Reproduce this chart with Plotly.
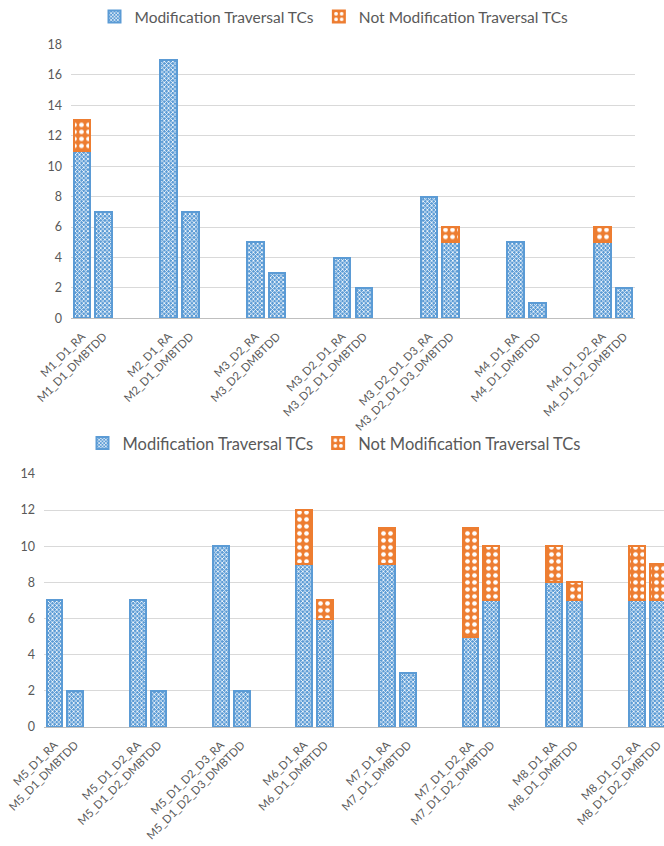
import plotly.graph_objects as go

# ---------------- data ----------------
top_labels = ["M1_D1_RA", "M1_D1_DMBTDD", "M2_D1_RA", "M2_D1_DMBTDD",
              "M3_D2_RA", "M3_D2_DMBTDD", "M3_D2_D1_RA", "M3_D2_D1_DMBTDD",
              "M3_D2_D1_D3_RA", "M3_D2_D1_D3_DMBTDD", "M4_D1_RA", "M4_D1_DMBTDD",
              "M4_D1_D2_RA", "M4_D1_D2_DMBTDD"]
top_mod = [11, 7, 17, 7, 5, 3, 4, 2, 8, 5, 5, 1, 5, 2]
top_not = [2, 0, 0, 0, 0, 0, 0, 0, 0, 1, 0, 0, 1, 0]

bot_labels = ["M5_D1_RA", "M5_D1_DMBTDD", "M5_D1_D2_RA", "M5_D1_D2_DMBTDD",
              "M5_D1_D2_D3_RA", "M5_D1_D2_D3_DMBTDD", "M6_D1_RA", "M6_D1_DMBTDD",
              "M7_D1_RA", "M7_D1_DMBTDD", "M7_D1_D2_RA", "M7_D1_D2_DMBTDD",
              "M8_D1_RA", "M8_D1_DMBTDD", "M8_D1_D2_RA", "M8_D1_D2_DMBTDD"]
bot_mod = [7, 2, 7, 2, 10, 2, 9, 6, 9, 3, 5, 7, 8, 7, 7, 7]
bot_not = [0, 0, 0, 0, 0, 0, 3, 1, 2, 0, 6, 3, 2, 1, 3, 2]

series_names = ["Modification Traversal TCs", "Not Modification Traversal TCs"]

# ---------------- styling ----------------
W, H = 664, 846
BLUE = "#5B9BD5"
ORANGE = "#ED7D31"
GRID = "#D9D9D9"
TXT = "#595959"
FONT = "Lato, 'Open Sans', sans-serif"


def positions(n):
    # two bars per group, groups separated by two empty slots
    return [4 * (i // 2) + (i % 2) for i in range(n)]


def nz(vals):
    return [v if v else None for v in vals]


blue_marker = dict(color=BLUE, line=dict(color=BLUE, width=2),
                   pattern=dict(shape="x", fgcolor="white", bgcolor=BLUE,
                                size=3, solidity=0.45, fillmode="replace"))
orange_marker = dict(color=ORANGE, line=dict(color=ORANGE, width=2),
                     pattern=dict(shape=".", fgcolor="white", bgcolor=ORANGE,
                                  size=7, solidity=0.35, fillmode="replace"))

fig = go.Figure()

xt = positions(len(top_labels))
xb = positions(len(bot_labels))

fig.add_trace(go.Bar(x=xt, y=top_mod, name=series_names[0], marker=blue_marker,
                     width=0.76, xaxis="x", yaxis="y", legend="legend"))
fig.add_trace(go.Bar(x=xt, y=nz(top_not), name=series_names[1], marker=orange_marker,
                     width=0.76, xaxis="x", yaxis="y", legend="legend"))
fig.add_trace(go.Bar(x=xb, y=bot_mod, name=series_names[0], marker=blue_marker,
                     width=0.76, xaxis="x2", yaxis="y2", legend="legend2"))
fig.add_trace(go.Bar(x=xb, y=nz(bot_not), name=series_names[1], marker=orange_marker,
                     width=0.76, xaxis="x2", yaxis="y2", legend="legend2"))


def py(p):
    return 1 - p / H


def px(p):
    return p / W


xcommon = dict(showgrid=False, zeroline=False, showline=True, linecolor="#BFBFBF",
               linewidth=1, ticks="", tickangle=-45, automargin=False,
               ticklabelstandoff=6, ticklabeloverflow="allow",
               tickfont=dict(family=FONT, size=11.3, color=TXT))
ycommon = dict(showgrid=True, gridcolor=GRID, gridwidth=1, zeroline=False,
               showline=False, ticks="", dtick=2, automargin=False,
               ticklabelstandoff=8,
               tickfont=dict(family=FONT, size=12.5, color=TXT))

fig.update_layout(
    width=W, height=H,
    margin=dict(l=0, r=0, t=0, b=0),
    paper_bgcolor="white", plot_bgcolor="white",
    barmode="stack",
    font=dict(family=FONT, color=TXT),
    xaxis=dict(domain=[px(71), px(635)], range=[-0.5, 25.5],
               tickvals=xt, ticktext=top_labels, anchor="y", **xcommon),
    yaxis=dict(domain=[py(314), py(37.7)], range=[0, 18], anchor="x", **ycommon),
    xaxis2=dict(domain=[px(44), 1.0], range=[-0.5, 29.3],
                tickvals=xb, ticktext=bot_labels, anchor="y2", **xcommon),
    yaxis2=dict(domain=[py(726), py(470.8)], range=[0, 14], anchor="x2", **ycommon),
    legend=dict(orientation="h", x=px(334), xanchor="center", y=py(10), yanchor="middle",
                font=dict(family=FONT, size=15.5, color=TXT), itemwidth=30,
                bgcolor="rgba(0,0,0,0)", traceorder="normal"),
    legend2=dict(orientation="h", x=px(334), xanchor="center", y=py(440), yanchor="middle",
                 font=dict(family=FONT, size=16.5, color=TXT), itemwidth=30,
                 bgcolor="rgba(0,0,0,0)", traceorder="normal"),
    showlegend=True,
)

fig.write_html("out.html")
